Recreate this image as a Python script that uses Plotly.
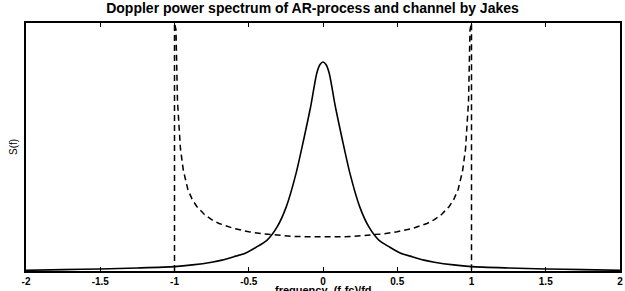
import plotly.graph_objects as go

# AR-process spectrum (solid)
ar_freq = [-2.0, -1.75, -1.5, -1.25, -1.0, -0.88, -0.75, -0.68, -0.6, -0.52, -0.45, -0.376, -0.31,
           -0.248, -0.181, -0.131, -0.084, -0.042, -0.02, 0.0, 0.02, 0.042, 0.084, 0.131, 0.181,
           0.248, 0.31, 0.376, 0.45, 0.52, 0.6, 0.68, 0.75, 0.88, 1.0, 1.25, 1.5, 1.75, 2.0]
ar_val = [0.02, 0.04, 0.06, 0.09, 0.13, 0.18, 0.26, 0.32, 0.42, 0.53, 0.7, 0.91, 1.29,
          1.88, 2.88, 3.85, 4.82, 5.82, 6.08, 6.15, 6.08, 5.82, 4.82, 3.85, 2.88,
          1.88, 1.29, 0.91, 0.7, 0.53, 0.42, 0.32, 0.26, 0.18, 0.13, 0.09, 0.06, 0.04, 0.02]

# Jakes spectrum (dashed) (clipped at the top of the axes)
jakes_freq = [-1.0, -1.0, -0.99, -0.98, -0.96, -0.94, -0.91, -0.88, -0.85, -0.8, -0.75, -0.7,
              -0.6, -0.5, -0.4, -0.3, -0.2, -0.1, 0.0, 0.1, 0.2, 0.3, 0.4, 0.5, 0.6, 0.7,
              0.75, 0.8, 0.85, 0.88, 0.91, 0.94, 0.96, 0.98, 0.99, 1.0, 1.0]
jakes_val = [0.0, 7.3, 7.1, 5.0, 3.6, 2.95, 2.4, 2.1, 1.9, 1.67, 1.51, 1.4,
             1.25, 1.155, 1.09, 1.05, 1.02, 1.005, 1.0, 1.005, 1.02, 1.05, 1.09, 1.155, 1.25, 1.4,
             1.51, 1.67, 1.9, 2.1, 2.4, 2.95, 3.6, 5.0, 7.1, 7.3, 0.0]

x_ticks = [-2, -1.5, -1, -0.5, 0, 0.5, 1, 1.5, 2]
x_ticklabels = ["-2", "-1.5", "-1", "-0.5", "0", "0.5", "1", "1.5", "2"]

fig = go.Figure()
fig.add_trace(go.Scatter(x=jakes_freq, y=jakes_val, mode="lines",
                         line=dict(color="black", width=1.5, dash="6px,4px"),
                         showlegend=False, hoverinfo="skip"))
fig.add_trace(go.Scatter(x=ar_freq, y=ar_val, mode="lines",
                         line=dict(color="black", width=1.6, shape="spline", smoothing=0.6),
                         showlegend=False, hoverinfo="skip"))

font_family = "Liberation Sans, Arial, sans-serif"

fig.update_layout(
    width=625, height=291,
    margin=dict(l=26, r=3, t=23, b=20),
    paper_bgcolor="white", plot_bgcolor="white",
    title=dict(text="<b>Doppler power spectrum of AR-process and channel by Jakes</b>",
               x=0.5, xanchor="center", y=1 - 8 / 291, yanchor="middle",
               font=dict(family=font_family, size=14, color="black")),
    xaxis=dict(range=[-2, 2], tickvals=x_ticks, ticktext=x_ticklabels,
               ticks="inside", ticklen=4, tickcolor="black", tickwidth=1,
               showline=True, linecolor="black", linewidth=1.5, mirror="ticks",
               showgrid=False, zeroline=False,
               tickfont=dict(family=font_family, size=10, color="black", weight="bold")),
    yaxis=dict(range=[0, 7.3], showticklabels=False, ticks="",
               showline=True, linecolor="black", linewidth=1.5, mirror=True,
               showgrid=False, zeroline=False),
    annotations=[
        dict(text="<b>frequency  (f-fc)/fd</b>", xref="paper", yref="paper", x=0.5, y=0,
             xanchor="center", yanchor="top", yshift=-11, showarrow=False,
             font=dict(family=font_family, size=11, color="black")),
        dict(text="S(f)", xref="paper", yref="paper", x=0, y=0.5,
             xanchor="center", yanchor="middle", xshift=-13, textangle=-90, showarrow=False,
             font=dict(family=font_family, size=10, color="black")),
    ],
)

fig.write_html("out.html", config={"displayModeBar": False},
               post_script="document.body.style.margin='0px';")
